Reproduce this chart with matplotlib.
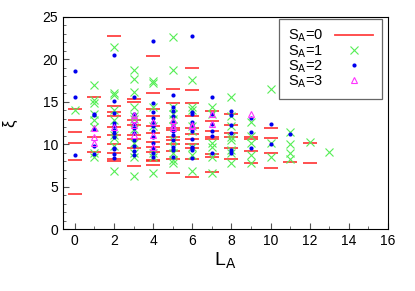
import matplotlib
matplotlib.use("Agg")
import matplotlib.pyplot as plt
from matplotlib.lines import Line2D
from matplotlib.ticker import MultipleLocator

plt.rcParams['font.family'] = ['Liberation Sans', 'DejaVu Sans']

# S_A = 0 (red bars)
s0_L = [0, 0, 0, 0, 0, 0,
        1, 1, 1,
        2, 2, 2, 2, 2, 2, 2, 2, 2, 2,
        3, 3, 3, 3, 3, 3, 3, 3,
        4, 4, 4, 4, 4, 4, 4, 4, 4, 4, 4, 4,
        5, 5, 5, 5, 5, 5, 5, 5, 5, 5,
        6, 6, 6, 6, 6, 6, 6, 6, 6, 6, 6,
        7, 7, 7, 7, 7, 7, 7, 7,
        8, 8, 8, 8, 8, 8,
        9, 9, 9, 9,
        10, 10, 10, 10,
        11, 12, 12]
s0_xi = [14.2, 12.8, 11.4, 10.1, 8.1, 4.1,
         15.5, 10.9, 9.1,
         22.8, 14.5, 13.8, 13.3, 12.0, 11.1, 10.0, 9.0, 8.2, 8.0,
         15.3, 15.0, 12.8, 12.2, 11.1, 10.6, 9.5, 7.4,
         20.4, 16.0, 14.2, 13.3, 12.1, 11.3, 10.2, 9.7, 9.1, 8.1, 8.0, 7.5,
         16.5, 14.8, 11.9, 11.7, 10.9, 10.5, 10.0, 9.2, 8.3, 6.6,
         19.0, 16.4, 14.9, 13.3, 11.9, 11.2, 10.6, 10.0, 9.5, 8.2, 6.1,
         13.9, 12.7, 11.6, 10.8, 10.6, 8.8, 8.5, 6.7,
         13.5, 12.2, 11.3, 10.8, 9.5, 8.3,
         10.8, 10.6, 9.2, 7.8,
         11.9, 10.7, 8.9, 7.2,
         7.9, 10.1, 7.8]

# S_A = 1 (green crosses)
s1_L = [0,
        1, 1, 1, 1, 1, 1, 1, 1,
        2, 2, 2, 2, 2, 2, 2, 2, 2,
        3, 3, 3, 3, 3, 3, 3, 3, 3, 3, 3,
        4, 4, 4, 4, 4, 4, 4,
        5, 5, 5, 5, 5, 5, 5, 5, 5, 5, 5,
        6, 6, 6, 6, 6, 6, 6, 6,
        7, 7, 7, 7, 7, 7,
        8, 8, 8, 8, 8, 8, 8, 8,
        9, 9, 9, 9, 9,
        10, 10, 10,
        11, 11, 11, 11,
        12, 13]
s1_xi = [14.0,
         17.0, 15.2, 14.9, 13.6, 12.8, 12.0, 9.0, 8.5,
         21.4, 16.0, 15.8, 14.0, 12.9, 11.1, 10.7, 9.8, 6.8,
         18.7, 17.7, 16.2, 14.4, 13.3, 13.0, 11.8, 10.1, 8.9, 8.5, 6.2,
         17.4, 17.2, 14.4, 12.1, 9.0, 8.5, 6.6,
         22.6, 18.7, 14.4, 13.6, 13.0, 12.1, 10.5, 9.7, 8.9, 8.1, 7.8,
         17.6, 14.4, 14.0, 12.1, 11.5, 9.7, 8.7, 6.8,
         14.4, 13.6, 10.1, 9.7, 8.5, 6.6,
         15.5, 13.3, 12.1, 10.9, 10.5, 9.3, 8.9, 7.8,
         12.6, 11.0, 10.1, 8.7, 7.8,
         16.5, 10.1, 8.5,
         11.4, 10.0, 9.0, 8.3,
         10.2, 9.1]

# S_A = 2 (blue dots)
s2_L = [0, 0, 0,
        1, 1, 1, 1, 1,
        2, 2, 2, 2, 2, 2, 2, 2, 2, 2, 2, 2,
        3, 3, 3, 3, 3, 3, 3, 3, 3,
        4, 4, 4, 4, 4, 4, 4, 4, 4, 4, 4, 4,
        5, 5, 5, 5, 5, 5, 5, 5, 5, 5, 5, 5,
        6, 6, 6, 6, 6, 6, 6, 6, 6, 6, 6,
        7, 7, 7, 7, 7, 7,
        8, 8, 8, 8, 8, 8,
        9, 9, 9,
        10, 10,
        11]
s2_xi = [18.6, 15.5, 8.7,
         13.6, 13.4, 11.8, 9.8, 8.8,
         20.5, 15.1, 13.7, 12.5, 12.1, 11.7, 11.3, 10.9, 9.6, 9.4, 8.8, 8.4,
         15.5, 13.6, 12.4, 11.9, 11.3, 10.5, 9.8, 9.2, 8.7,
         22.2, 14.9, 13.8, 13.1, 12.6, 12.1, 11.5, 10.9, 10.1, 9.5, 9.0, 8.5,
         15.8, 14.4, 13.9, 13.3, 12.6, 12.1, 11.5, 11.1, 10.5, 9.7, 9.3, 8.5,
         22.8, 13.8, 13.5, 12.6, 12.3, 11.5, 10.6, 9.7, 9.5, 9.3, 8.4,
         15.5, 13.6, 12.4, 11.6, 11.0, 8.9,
         13.9, 13.4, 12.3, 11.3, 9.3, 9.0,
         13.1, 11.4, 9.5,
         12.4, 10.0,
         11.2]

# S_A = 3 (magenta triangles)
s3_L = [1, 1, 1, 2, 3, 3, 3, 3, 4, 4, 4, 5, 5, 5, 6, 6, 7, 7, 9]
s3_xi = [11.9, 10.9, 10.1, 12.0, 13.4, 13.0, 12.3, 11.1, 12.6, 11.1, 9.7,
         12.8, 12.1, 11.9, 12.3, 12.1, 13.6, 12.4, 13.6]

red = '#ff2020'

fig = plt.figure(figsize=(4.15, 2.91), dpi=100)
ax = fig.add_axes([0.152, 0.213, 0.783, 0.729])

ax.plot(s0_L, s0_xi, ls='none', marker='_', ms=10, mew=1.3, color=red,
        alpha=0.85)
h1, = ax.plot(s1_L, s1_xi, ls='none', marker='x', ms=5.5, mew=0.8,
              color='#55ee55')
h2, = ax.plot(s2_L, s2_xi, ls='none', marker='o', ms=3, color='#0000ee',
              mec='none')
h3, = ax.plot(s3_L, s3_xi, ls='none', marker='^', ms=5, mfc='none', mew=0.8,
              color='#ff33ff')

# legend shows S_A=0 as a full line, like the original
h0 = Line2D([], [], color=red, lw=1.3, alpha=0.85)

ax.set_xlim(-0.6, 16)
ax.set_ylim(0, 25)
ax.xaxis.set_major_locator(MultipleLocator(2))
ax.xaxis.set_minor_locator(MultipleLocator(1))
ax.yaxis.set_major_locator(MultipleLocator(5))
ax.yaxis.set_minor_locator(MultipleLocator(1))
ax.tick_params(which='both', direction='in', top=False, right=False,
               labelsize=10, color='#555555')
ax.tick_params(which='major', length=4)
ax.tick_params(which='minor', length=2)
ax.set_xlabel('L$_\\mathrm{A}$', fontsize=14, labelpad=2)
ax.set_ylabel('ξ', fontsize=12, labelpad=18)

labels = ['S$_\\mathrm{A}$=0', 'S$_\\mathrm{A}$=1', 'S$_\\mathrm{A}$=2',
          'S$_\\mathrm{A}$=3']
leg = ax.legend([h0, h1, h2, h3], labels, loc='upper right', markerfirst=False,
                fontsize=10.5, handlelength=2.6, handletextpad=0.8,
                labelspacing=-0.1, borderpad=0.6, borderaxespad=0,
                fancybox=False, framealpha=1, edgecolor='#666666',
                bbox_to_anchor=(0.98, 0.99))
leg.get_frame().set_linewidth(0.9)

fig.savefig('out.png', dpi=100)
